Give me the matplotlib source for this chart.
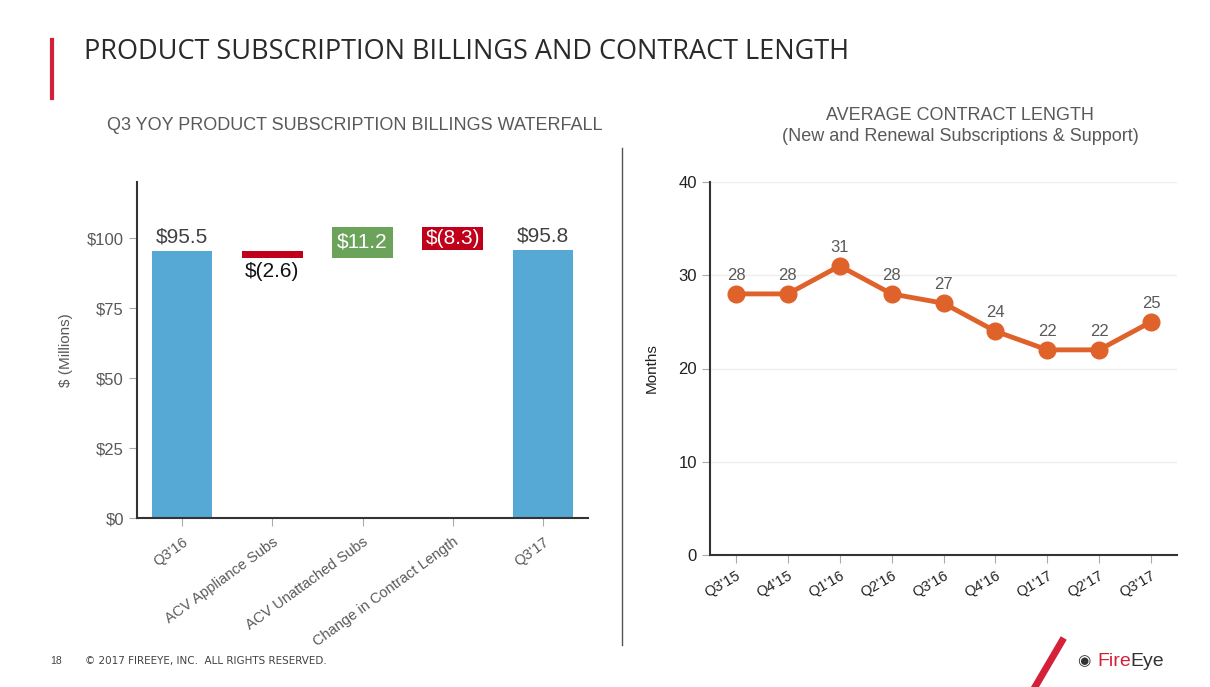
import matplotlib
matplotlib.use("Agg")
import matplotlib.pyplot as plt
from matplotlib.lines import Line2D

plt.rcParams['font.family'] = ['Liberation Sans', 'DejaVu Sans']

# ===== 数据 =====
wf_labels = ["Q3'16", "ACV Appliance Subs", "ACV Unattached Subs",
             "Change in Contract Length", "Q3'17"]
wf_start = 95.5
wf_deltas = [-2.6, 11.2, -8.3]
wf_end = 95.8
wf_texts = ["$95.5", "$(2.6)", "$11.2", "$(8.3)", "$95.8"]

q_labels = ["Q3'15", "Q4'15", "Q1'16", "Q2'16", "Q3'16",
            "Q4'16", "Q1'17", "Q2'17", "Q3'17"]
months = [28, 28, 31, 28, 27, 24, 22, 22, 25]

# ===== 颜色 =====
c_blue = '#56A9D4'
c_red = '#C0001A'
c_green = '#6BA35A'
c_orange = '#E0622B'
c_gray = '#595959'
c_axis = '#333333'

fig = plt.figure(figsize=(12.1, 6.87), dpi=100)

# ===== 标题 =====
fig.add_artist(Line2D([52/1210, 52/1210], [1-40/687, 1-98/687], color='#D5203A', lw=3))
fig.text(84/1210, 1-52/687, "PRODUCT SUBSCRIPTION BILLINGS AND CONTRACT LENGTH",
         fontsize=19.5, color='#2a2a2a', va='center', ha='left', family='Open Sans')
fig.text(355/1210, 1-126/687, "Q3 YOY PRODUCT SUBSCRIPTION BILLINGS WATERFALL",
         fontsize=13, color=c_gray, ha='center', va='center')
fig.text(960/1210, 1-126/687, "AVERAGE CONTRACT LENGTH\n(New and Renewal Subscriptions & Support)",
         fontsize=13, color=c_gray, ha='center', va='center', linespacing=1.3)

# 分隔线
fig.add_artist(Line2D([622/1210, 622/1210], [1-148/687, 1-645/687], color='#555555', lw=1))

# ===== 瀑布图 =====
ax1 = fig.add_axes([137/1210, 1-518/687, 451/1210, 336/687])
bottoms, heights, colors = [], [], []
bottoms.append(0); heights.append(wf_start); colors.append(c_blue)
level = wf_start
for d in wf_deltas:
    bottoms.append(min(level, level + d))
    heights.append(abs(d))
    colors.append(c_red if d < 0 else c_green)
    level += d
bottoms.append(0); heights.append(wf_end); colors.append(c_blue)
xs = list(range(len(wf_labels)))
ax1.bar(xs, heights, bottom=bottoms, color=colors, width=0.67)

# 标签
ax1.text(0, wf_start + 1.5, wf_texts[0], ha='center', va='bottom', fontsize=15, color='#404040')
ax1.text(4, wf_end + 1.5, wf_texts[4], ha='center', va='bottom', fontsize=15, color='#404040')
ax1.text(1, bottoms[1] - 1.5, wf_texts[1], ha='center', va='top', fontsize=15, color='#111111')
ax1.text(2, bottoms[2] + heights[2] / 2, wf_texts[2], ha='center', va='center', fontsize=15, color='white')
ax1.text(3, bottoms[3] + heights[3] / 2, wf_texts[3], ha='center', va='center', fontsize=15, color='white')

ax1.set_xlim(-0.5, 4.5)
ax1.set_ylim(0, 120)
ax1.set_yticks([0, 25, 50, 75, 100])
ax1.set_yticklabels(["$0", "$25", "$50", "$75", "$100"])
ax1.set_xticks(xs)
ax1.set_xticklabels(wf_labels, rotation=36, ha='right', rotation_mode='anchor')
ax1.tick_params(axis='both', colors='#aaaaaa', labelcolor=c_gray, labelsize=12, length=6)
ax1.tick_params(axis='x', pad=6, labelsize=10.5)
ax1.set_ylabel("$ (Millions)", color=c_gray, fontsize=11, labelpad=10)
for s in ['top', 'right']:
    ax1.spines[s].set_visible(False)
for s in ['left', 'bottom']:
    ax1.spines[s].set_color(c_axis)
    ax1.spines[s].set_linewidth(1.5)

# ===== 合同长度折线 =====
ax2 = fig.add_axes([710/1210, 1-555/687, 467/1210, 373/687])
qx = list(range(len(q_labels)))
ax2.plot(qx, months, color=c_orange, lw=3.5, marker='o', markersize=12, zorder=3)
for x, v in zip(qx, months):
    ax2.text(x, v + 1.2, str(v), ha='center', va='bottom', fontsize=12, color=c_gray)
ax2.set_xlim(-0.5, 8.5)
ax2.set_ylim(0, 40)
ax2.set_yticks([0, 10, 20, 30, 40])
ax2.yaxis.grid(True, color='#eeeeee', lw=1)
ax2.set_axisbelow(True)
ax2.set_xticks(qx)
ax2.set_xticklabels(q_labels, rotation=30, ha='right', rotation_mode='anchor')
ax2.tick_params(axis='both', colors='#aaaaaa', labelcolor='#222222', labelsize=10.5, length=6)
ax2.tick_params(axis='y', labelsize=12)
ax2.set_ylabel("Months", color='#222222', fontsize=11, labelpad=14)
for s in ['top', 'right']:
    ax2.spines[s].set_visible(False)
for s in ['left', 'bottom']:
    ax2.spines[s].set_color(c_axis)
    ax2.spines[s].set_linewidth(1.5)

# ===== 页脚 =====
fig.text(50/1210, 1-661/687, "18", fontsize=7.5, color='#444444', va='center')
fig.text(85/1210, 1-661/687, "\u00a9 2017 FIREEYE, INC.  ALL RIGHTS RESERVED.", fontsize=7.5,
         color='#444444', va='center', family='Liberation Sans Narrow')
fig.add_artist(Line2D([1062/1210, 1035/1210], [1-641/687, 1-687/687], color='#D5203A', lw=5))
fig.text(1097/1210, 1-661/687, "Fire", fontsize=14, color='#D5203A', va='center', ha='left')
fig.text(1130/1210, 1-661/687, "Eye", fontsize=14, color='#333333', va='center', ha='left')
fig.text(1084/1210, 1-661/687, "\u25c9", fontsize=11, color='#333333', va='center', ha='center')

fig.savefig("out.png", dpi=100)
